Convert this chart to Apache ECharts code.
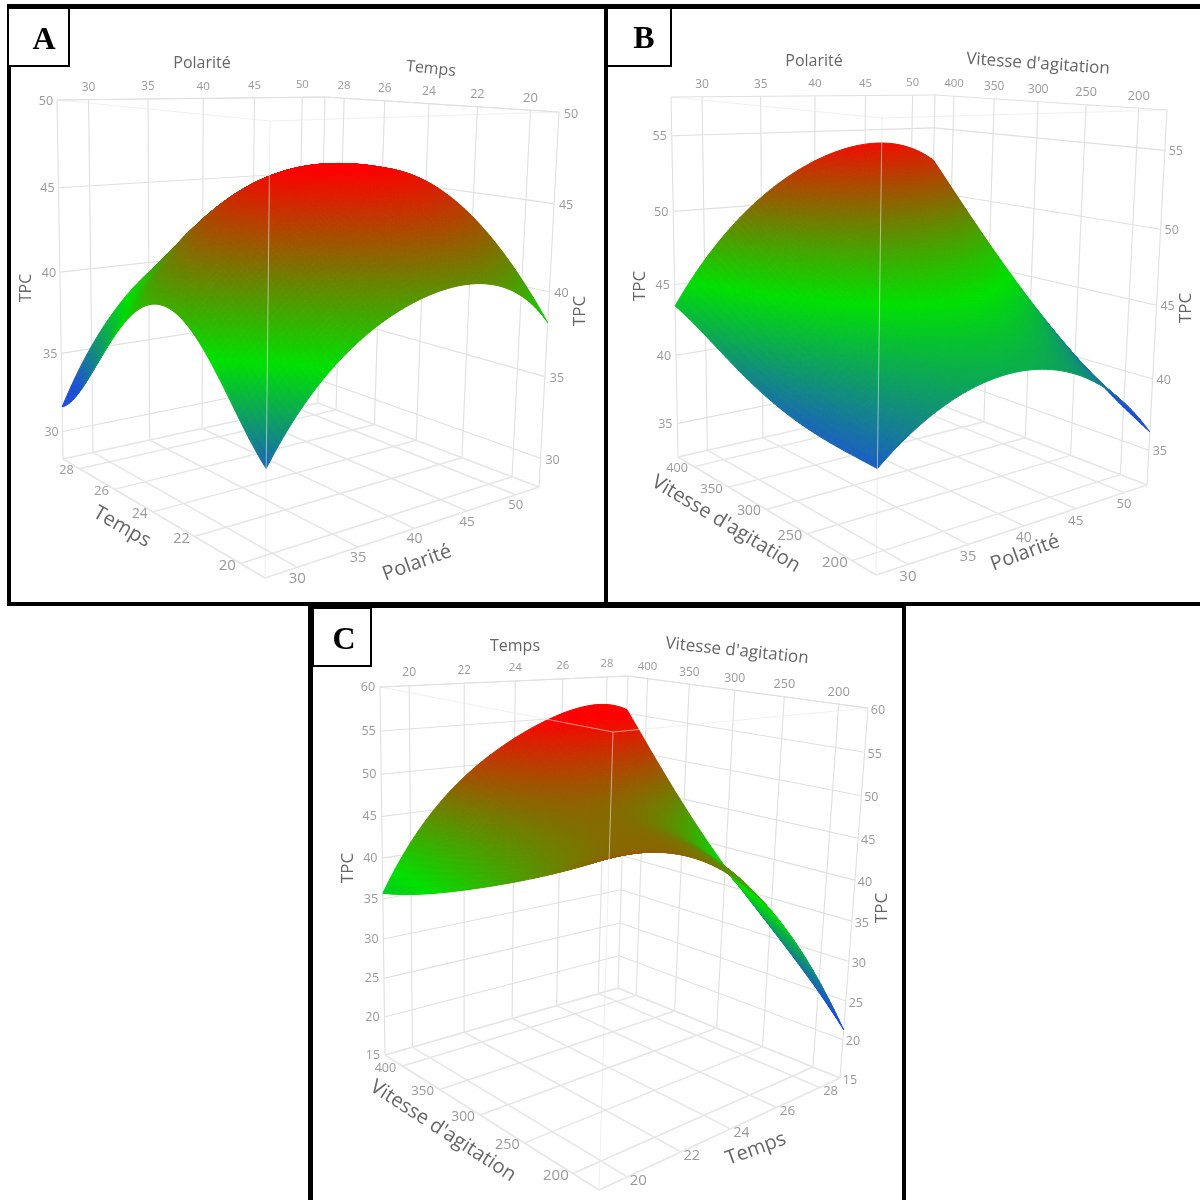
<!DOCTYPE html>
<html><head><meta charset="utf-8">
<script src="https://cdn.jsdelivr.net/npm/echarts@6/dist/echarts.min.js"></script>
<style>html,body{margin:0;padding:0;background:#fff}#c{width:1200px;height:1200px}</style>
</head><body><div id="c"></div>
<script>
// ---- tick labels
const polariteTicks = [30, 35, 40, 45, 50];
const tempsTicks = [20, 22, 24, 26, 28];
const vitesseTicks = [200, 250, 300, 350, 400];
const tpcTicksA = [30, 35, 40, 45, 50];
const tpcTicksB = [35, 40, 45, 50, 55];
const tpcTicksC = [15, 20, 25, 30, 35, 40, 45, 50, 55, 60];
// ---- TPC at 5 equally spaced positions of each factor.
// rows: second factor from its high end to its low end; columns: first factor low to high.
const valuesA = [
  [31.6, 38.6, 41.5, 43.2, 44.5],
  [36.2, 42.0, 45.1, 46.0, 45.7],
  [39.9, 43.8, 45.8, 46.2, 45.3],
  [38.25, 41.9, 44.0, 44.4, 42.9],
  [33.76, 38.7, 40.8, 41.0, 38.2]
];
const valuesB = [
  [43.5, 49.7, 52.9, 54.0, 52.5],
  [41.7, 47.1, 49.6, 50.0, 47.7],
  [39.95, 44.6, 46.5, 46.2, 43.2],
  [39.0, 42.8, 44.1, 43.1, 39.35],
  [38.7, 41.75, 42.45, 40.8, 36.3]
];
const valuesC = [
  [35.7, 47.2, 52.9, 56.0, 55.5],
  [38.0, 46.3, 49.4, 49.4, 46.0],
  [41.0, 46.3, 46.9, 44.0, 37.4],
  [44.4, 46.9, 45.6, 39.8, 29.8],
  [48.4, 47.3, 42.7, 34.0, 21.3]
];

// ---- panel configuration (3D box seen through a perspective-like mapping)
const panels = [
 { xTicks: polariteTicks, xRange: [27.5, 52.5], yTicks: tempsTicks, yRange: [19, 29],
   zTicks: tpcTicksA, zRange: [28.2, 50], values: valuesA, stops: [33, 38, 46.3],
   floor: {L:[63,459],B:[318,403],F:[265,578],R:[539,487]},
   top:   {L:[57,100],B:[325,97],F:[270,121],R:[559,112]},
   off: {topX:[0,-12],topY:[0,-12],zL:[-11,1],zR:[12,2],floorY:[-13,2],floorX:[0,11]},
   titles: [['Polarité',202,63,0,16],['Temps',431,69,-6,16],['TPC',26,288,90,16],['TPC',580,311,90,17],
            ['Temps',122,527,-30,20],['Polarité',417,563,20,20]] },
 { xTicks: polariteTicks, xRange: [27.5, 52.5], yTicks: vitesseTicks, yRange: [175, 425],
   zTicks: tpcTicksB, zRange: [32.5, 57.5], values: valuesB, stops: [38, 45, 54.5],
   floor: {L:[678,457],B:[928,400],F:[876,575],R:[1147,485]},
   top:   {L:[671,97],B:[935,95],F:[882,118],R:[1167,110]},
   off: {topX:[0,-12],topY:[0,-12],zL:[-12,1],zR:[11,1],floorY:[-17,2],floorX:[0,12]},
   titles: [['Polarité',814,61,0,16],["Vitesse d'agitation",1038,64,-4,17],['TPC',640,286,90,17],['TPC',1186,308,90,17],
            ["Vitesse d'agitation",726,524,-31,20],['Polarité',1025,553,20,20]] },
 { xTicks: tempsTicks, xRange: [19, 29], yTicks: vitesseTicks, yRange: [175, 425],
   zTicks: tpcTicksC, zRange: [15, 60], values: valuesC, stops: [24, 38, 55],
   floor: {L:[385,1055],B:[618,988],F:[599,1190],R:[840,1078]},
   top:   {L:[380,687],B:[628,676],F:[613,732],R:[868,708]},
   off: {topX:[0,-13],topY:[0,-12],zL:[-12,0],zR:[10,2],floorY:[-17,2],floorX:[11,4]},
   titles: [['Temps',515,646,0,16],["Vitesse d'agitation",737,651,-6,17],['TPC',348,868,90,17],['TPC',882,908,90,17],
            ["Vitesse d'agitation",443,1131,-33,20],['Temps',756,1149,20,20]] }
];
const AX = 1.2, AY = 0.8, AZ = 0.92;
const BLUE = [30,80,215], GREEN = [0,225,0], RED = [255,0,0];
const warp = (t, a) => a * t / (1 + (a - 1) * t);
const lerp = (a, b, t) => a + (b - a) * t;

function project(p, s, w, z) {
  const u = warp(s, AX), v = warp(w, AY);
  const t = warp((z - p.zRange[0]) / (p.zRange[1] - p.zRange[0]), AZ);
  const bil = (q, k) => (1-u)*(1-v)*q.L[k] + u*(1-v)*q.B[k] + (1-u)*v*q.F[k] + u*v*q.R[k];
  return [lerp(bil(p.floor,0), bil(p.top,0), t), lerp(bil(p.floor,1), bil(p.top,1), t)];
}
function colorAt(st, z) {
  let c;
  if (z <= st[1]) { const t = Math.max(0, (z - st[0]) / (st[1] - st[0])); c = BLUE.map((b, i) => lerp(b, GREEN[i], t)); }
  else { const t = Math.min(1, (z - st[1]) / (st[2] - st[1])); c = GREEN.map((g, i) => lerp(g, RED[i], t)); }
  return 'rgb(' + c.map(Math.round).join(',') + ')';
}
// polynomial through the 5 read values, only used to draw a smooth mesh between them
const NODES = [0, .25, .5, .75, 1];
function basis(t) {
  return NODES.map((ni, i) => NODES.reduce((acc, nj, j) => j === i ? acc : acc * (t - nj) / (ni - nj), 1));
}
const N = 72;
const cells = [], lines = [], over = [], texts = [];
panels.forEach(p => {
  const S = i => i / N;
  const bs = [], zs = [];
  for (let i = 0; i <= N; i++) bs.push(basis(S(i)));
  for (let j = 0; j <= N; j++) { zs.push([]);
    for (let i = 0; i <= N; i++) { let z = 0;
      for (let a = 0; a < 5; a++) for (let b = 0; b < 5; b++) z += bs[j][a] * bs[i][b] * p.values[a][b];
      zs[j].push(z); } }
  // far corner first, near corner last
  for (let i = N - 1; i >= 0; i--) for (let j = 0; j < N; j++) {
    const corners = [[i,j],[i+1,j],[i+1,j+1],[i,j+1]];
    const zm = corners.reduce((a, c) => a + zs[c[1]][c[0]], 0) / 4;
    cells.push({ pts: corners.map(c => project(p, S(c[0]), S(c[1]), zs[c[1]][c[0]])), color: colorAt(p.stops, zm) });
  }
  const zl = p.zRange[0], zh = p.zRange[1];
  const sOf = x => (x - p.xRange[0]) / (p.xRange[1] - p.xRange[0]);
  const wOf = y => (p.yRange[1] - y) / (p.yRange[1] - p.yRange[0]);
  const seg = (arr, a, b, w, col) => arr.push({ a: project(p, a[0], a[1], a[2]), b: project(p, b[0], b[1], b[2]), w, col });
  const C1 = '#e0e0e0', C2 = '#e6e6e6';
  // walls & floor
  p.xTicks.forEach(x => { const s = sOf(x);
    seg(lines, [s,0,zl], [s,0,zh], 1.1, C1);
    seg(lines, [s,0,zl], [s,1,zl], 1.5, C2); });
  p.yTicks.forEach(y => { const w = wOf(y);
    seg(lines, [1,w,zl], [1,w,zh], 1.1, C1);
    seg(lines, [0,w,zl], [1,w,zl], 1.5, C2); });
  p.zTicks.forEach(z => {
    seg(lines, [0,0,z], [1,0,z], 1.1, C1);
    seg(lines, [1,0,z], [1,1,z], 1.1, C1); });
  [[0,0],[1,0],[1,1]].forEach(c => seg(lines, [c[0],c[1],zl], [c[0],c[1],zh], 1.1, C1));
  seg(lines,[0,0,zl],[1,0,zl],1.5,C2); seg(lines,[1,0,zl],[1,1,zl],1.5,C2);
  seg(lines,[0,0,zl],[0,1,zl],1.5,C2); seg(lines,[0,1,zl],[1,1,zl],1.5,C2);
  seg(lines,[0,0,zh],[1,0,zh],1.1,C1); seg(lines,[1,0,zh],[1,1,zh],1.1,C1);
  // box edges in front of the surface
  const F = 'rgba(230,230,230,0.6)';
  seg(over,[0,1,zl],[0,1,zh],1,F); seg(over,[0,0,zh],[0,1,zh],1,F); seg(over,[0,1,zh],[1,1,zh],1,F);
  // tick labels
  const lbl = (pos, off, text, size) => texts.push({ x: pos[0]+off[0], y: pos[1]+off[1], text: String(text), size, rot: 0, color: '#9a9a9a' });
  p.xTicks.forEach((x,i) => { const s = sOf(x);
    lbl(project(p,s,0,zh), p.off.topX, x, 12 - i*0.2);
    lbl(project(p,s,1,zl), p.off.floorX, x, 15 - i*0.5); });
  p.yTicks.forEach((y,i) => { const w = wOf(y);
    lbl(project(p,1,w,zh), p.off.topY, y, 13 - i*0.4);
    lbl(project(p,0,w,zl), p.off.floorY, y, 15 - i*0.6); });
  p.zTicks.forEach(z => {
    lbl(project(p,0,0,z), p.off.zL, z, 12.5);
    lbl(project(p,1,1,z), p.off.zR, z, 12.5); });
  p.titles.forEach(t => texts.push({ x:t[1], y:t[2], text:t[0], rot:t[3]*Math.PI/180, size:t[4], color:'#666666' }));
});

const chart = echarts.init(document.getElementById('c'), null, {renderer:'canvas'});
const lineItem = (d, api) => { const a = api.coord(d.a), b = api.coord(d.b);
  return { type:'line', shape:{x1:a[0],y1:a[1],x2:b[0],y2:b[1]}, style:{stroke:d.col,lineWidth:d.w,fill:null}, silent:true }; };
const frame = (x,y,w,h) => ({ type:'rect', z:10, shape:{x,y,width:w,height:h}, style:{fill:'#000'}, silent:true });
const box = (x,y,w,h) => ({ type:'rect', z:11, shape:{x:x+1,y:y+1,width:w-2,height:h-2}, style:{fill:'#fff',stroke:'#000',lineWidth:2}, silent:true });
const letter = (t,x,y) => ({ type:'text', z:12, x, y, style:{text:t,font:'bold 32px "Liberation Serif"',fill:'#000',align:'center',verticalAlign:'middle'}, silent:true });
chart.setOption({
  animation:false,
  backgroundColor:'#fff',
  grid:{left:0,right:0,top:0,bottom:0,containLabel:false},
  xAxis:{type:'value',min:0,max:1200,show:false},
  yAxis:{type:'value',min:0,max:1200,inverse:true,show:false},
  graphic:[
    frame(7,4,1193,5), frame(7,4,4,602), frame(7,602,1193,4), frame(604,4,4,602),
    frame(308,602,598,6), frame(308,602,5,598), frame(902,602,4,598),
    box(7,7,63,60), box(606,7,66,60), box(312,607,60,60),
    letter('A',44,41), letter('B',644,40), letter('C',344,641)
  ],
  series:[
    { type:'custom', coordinateSystem:'cartesian2d', z:1, silent:true, progressive:0, clip:false,
      data:lines.map((d,i)=>[i,0]), encode:{x:0,y:1},
      renderItem:(params,api)=>lineItem(lines[params.dataIndex],api) },
    { type:'custom', coordinateSystem:'cartesian2d', z:2, silent:true, progressive:0, clip:false,
      data:cells.map((d,i)=>[i,0]), encode:{x:0,y:1},
      renderItem:(params,api)=>{ const c=cells[params.dataIndex];
        return { type:'polygon', shape:{points:c.pts.map(q=>api.coord(q))}, style:{fill:c.color,stroke:c.color,lineWidth:1}, silent:true }; } },
    { type:'custom', coordinateSystem:'cartesian2d', z:3, silent:true, progressive:0, clip:false,
      data:over.map((d,i)=>[i,0]), encode:{x:0,y:1},
      renderItem:(params,api)=>lineItem(over[params.dataIndex],api) },
    { type:'custom', coordinateSystem:'cartesian2d', z:4, silent:true, progressive:0, clip:false,
      data:texts.map((d,i)=>[i,0]), encode:{x:0,y:1},
      renderItem:(params,api)=>{ const t=texts[params.dataIndex], q=api.coord([t.x,t.y]);
        return { type:'text', x:q[0], y:q[1], rotation:t.rot, silent:true,
          style:{text:t.text,fontSize:t.size,fontFamily:'"Open Sans","Noto Sans",sans-serif',fill:t.color,align:'center',verticalAlign:'middle'} }; } }
  ]
});
</script></body></html>
